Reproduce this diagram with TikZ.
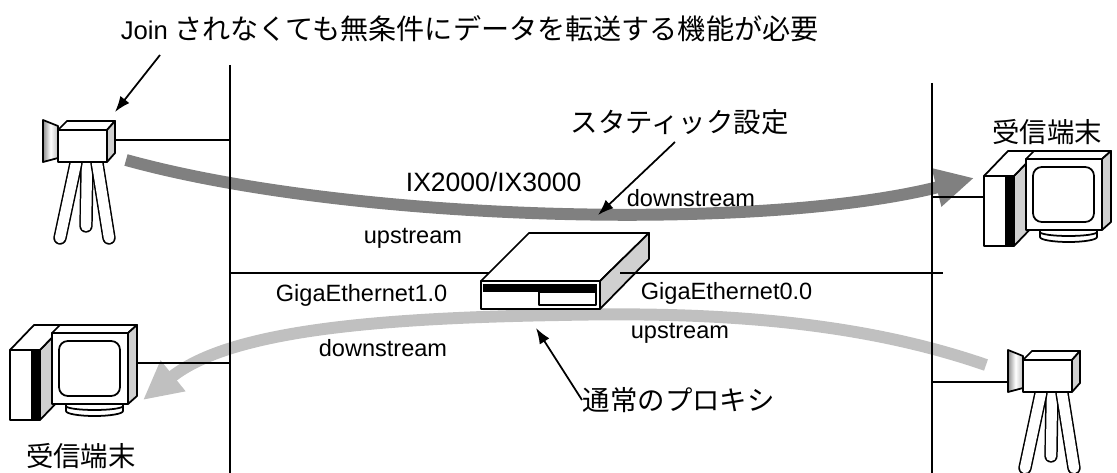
\documentclass[tikz,border=0pt]{standalone}
\usepackage{fontspec}
\setmainfont{Liberation Sans}
\newfontfamily\jp{Noto Sans CJK JP}
\usetikzlibrary{arrows.meta}
\definecolor{FlowDark}{HTML}{808080}
\definecolor{FlowLight}{HTML}{C0C0C0}
\definecolor{SideGray}{HTML}{D0D0D0}
\tikzset{
  >={Latex[length=9pt,width=6.5pt]},
  lbl/.style={inner sep=0pt, anchor=west, font=\fontsize{13.4pt}{16pt}\selectfont},
  jplbl/.style={inner sep=0pt, font=\jp\fontsize{15.6pt}{18pt}\selectfont},
  flow/.style={line width=6.8pt, -{Triangle[length=22pt,width=21pt]}},
  pics/camera/.style={code={
      % tripod, back leg first
      \foreach \ax/\ay/\bx/\by in {29/33/28/96,18/33/2/108,39/33/51/108}{
        \draw[line width=7.6pt,line cap=round] (\ax,\ay) -- (\bx,\by);
        \draw[white,line width=5.9pt,line cap=round] (\ax,\ay) -- (\bx,\by);
      }
      \draw[left color=gray!90,right color=gray!50,middle color=white] (-15,-10) -- (0,-4) -- (0,28) -- (-15,32) -- cycle;
      \draw[fill=white] (0,0) -- (9,-9) -- (57,-9) -- (49,0) -- cycle;
      \draw[fill=SideGray] (49,0) -- (57,-9) -- (57,23) -- (49,32) -- cycle;
      \draw[fill=white] (0,0) rectangle (49,32);
      \coordinate (-side) at (57,10);
      \coordinate (-lens) at (-15,22);
      \coordinate (-tag) at (57,-18);
    }},
  pics/terminal/.style={code={
      % tower
      \draw[fill=SideGray] (30,0) -- (54,-25) -- (54,45) -- (30,70) -- cycle;
      \draw[fill=white] (0,0) -- (24,-25) -- (54,-25) -- (30,0) -- cycle;
      \draw[fill=white] (0,0) rectangle (30,70);
      \fill (21,0) rectangle (29,70);
      % stand
      \draw[fill=white] (56,54) -- (56,61) arc[start angle=180,end angle=0,x radius=28.5,y radius=5] -- (113,54);
      \draw (56,56) arc[start angle=180,end angle=0,x radius=28.5,y radius=4];
      % monitor
      \draw[fill=white] (42,-17) -- (50,-25) -- (127,-25) -- (118,-17) -- cycle;
      \draw[fill=SideGray] (118,-17) -- (127,-25) -- (127,46) -- (118,54) -- cycle;
      \draw[fill=white] (42,-17) rectangle (118,54);
      \draw[rounded corners=5pt] (49,-9) rectangle (110,46);
      \coordinate (-west) at (0,21);
      \coordinate (-east) at (127,13);
    }},
}

\begin{document}
\begin{tikzpicture}[x=0.02cm, y=-0.02cm, line width=1pt, line join=round]
  \useasboundingbox (0,0) rectangle (1117,473);

  % multicast flows
  \draw[FlowDark, flow] (126,160) .. controls (350,222) and (760,232) .. (974,178);
  \draw[FlowLight, flow] (986,365) .. controls (850,318) and (700,312) .. (560,315)
    .. controls (380,318) and (230,330) .. (143,400);

  % segments
  \coordinate (busLtop) at (230,65);
  \coordinate (busLbot) at (230,473);
  \coordinate (busRtop) at (932,83);
  \coordinate (busRbot) at (932,473);
  \draw (busLtop) -- (busLbot);
  \draw (busRtop) -- (busRbot);

  % router
  \coordinate (rtrW) at (489,273);
  \coordinate (rtrE) at (620,273);
  \coordinate (lanE) at (943,273);
  \draw (rtrW -| busLtop) -- (rtrW);
  \draw[fill=white] (481,281) -- (529,233) -- (649,233) -- (600,281) -- cycle;
  \draw[fill=SideGray] (600,281) -- (649,233) -- (649,259) -- (600,309) -- cycle;
  \draw[fill=white] (481,281) rectangle (600,309);
  \fill (483,284) rectangle (597,292);
  \draw (539,292) rectangle (596,305);
  \draw (rtrE) -- (lanE);

  % hosts
  \pic (camL) at (58,130) {camera};
  \pic (camR) at (1023,360) {camera};
  \pic (pcR) at (984,176) {terminal};
  \pic (pcL) at (10,350) {terminal};
  \draw (camL-side) -- (camL-side -| busLtop);
  \draw (camR-lens) -- (camR-lens -| busRtop);
  \draw (pcR-west) -- (pcR-west -| busRtop);
  \draw (pcL-east) -- (pcL-east -| busLtop);

  % labels
  \node[jplbl, anchor=west, font=\jp\fontsize{16pt}{19pt}\selectfont] (note) at (120,29) {{\rmfamily\fontsize{14.6pt}{18pt}\selectfont Join} されなくても無条件にデータを転送する機能が必要};
  \node[jplbl, anchor=west] (static) at (570,122) {スタティック設定};
  \node[jplbl, anchor=west] (proxy) at (582,400) {通常のプロキシ};
  \node[jplbl] (rxR) at (1047,132) {受信端末};
  \node[jplbl] (rxL) at (81,456) {受信端末};
  \node[lbl, font=\fontsize{15.1pt}{18pt}\selectfont] (ix) at (405,182) {IX2000/IX3000};
  \node[lbl] (dsTop) at (626,198) {downstream};
  \node[lbl] (usTop) at (363,238) {upstream};
  \node[lbl] (ge1) at (275,295) {GigaEthernet1.0};
  \node[lbl] (ge0) at (640,293) {GigaEthernet0.0};
  \node[lbl] (usBot) at (630,333) {upstream};
  \node[lbl] (dsBot) at (318,348) {downstream};

  % callouts
  \coordinate (noteTail) at (160,55);
  \coordinate (staticTail) at (675,142);
  \coordinate (staticTip) at (598,215);
  \coordinate (proxyTip) at (536,328);
  \draw[->] (noteTail) -- (camL-tag);
  \draw[->] (staticTail) -- (staticTip);
  \draw[->] (proxy.west) -- (proxyTip);
\end{tikzpicture}
\end{document}
